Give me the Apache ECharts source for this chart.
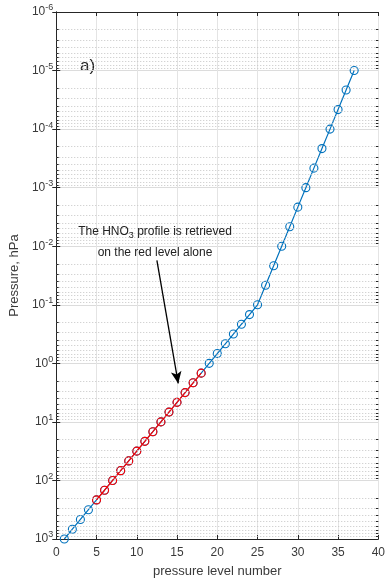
<!DOCTYPE html>
<html><head><meta charset="utf-8">
<script src="https://cdn.jsdelivr.net/npm/echarts@6/dist/echarts.min.js"></script>
<style>html,body{margin:0;padding:0;background:#fff}#c{width:388px;height:583px}</style>
</head><body><div id="c"></div>
<script>
const levels = [1,2,3,4,5,6,7,8,9,10,11,12,13,14,15,16,17,18,19,20,21,22,23,24,25,26,27,28,29,30,31,32,33,34,35,36,37];
const pressure = [1000, 681, 464, 316, 215, 147, 100, 68.1, 46.4, 31.6, 21.5, 14.7, 10, 6.81, 4.64, 3.16, 2.15, 1.47, 1, 0.681, 0.464, 0.316, 0.215, 0.147, 0.1, 0.0464, 0.0215, 0.01, 0.00464, 0.00215, 0.001, 0.000464, 0.000215, 0.0001, 0.0000464, 0.0000215, 0.00001];
const redLevels = [5,6,7,8,9,10,11,12,13,14,15,16,17,18];
const xTicks = [0,5,10,15,20,25,30,35,40];
const yDecades = [-6,-5,-4,-3,-2,-1,0,1,2,3];
const annotationLines = ['The HNO{sub|3} profile is retrieved', 'on the red level alone'];
const arrowFrom = [12.5, 0.0175];
const arrowTo = [15.15, 2.2];

const blueData = levels.map((l, i) => [l, pressure[i]]);
const redData = redLevels.map(l => [l, pressure[levels.indexOf(l)]]);

const minorVals = [];
for (let d = -6; d < 3; d++) for (let k = 2; k <= 9; k++) minorVals.push(k * Math.pow(10, d));

const axisColor = '#262626';
const textColor = '#3a3a3a';
const font = 'Liberation Sans, Arial, sans-serif';

const chart = echarts.init(document.getElementById('c'), null, {renderer: 'canvas'});
chart.setOption({
  animation: false,
  grid: {left: 53, top: 12, right: 8, bottom: 41, show: false},
  xAxis: [{
    type: 'value', min: 0, max: 40, interval: 5,
    name: 'pressure level number', nameLocation: 'middle', nameGap: 26,
    nameTextStyle: {fontSize: 13, color: textColor, fontFamily: font},
    axisLine: {show: true, lineStyle: {color: axisColor, width: 1}},
    axisTick: {show: true, inside: true, length: 4, lineStyle: {color: axisColor}},
    axisLabel: {fontSize: 12, color: textColor, fontFamily: font, margin: 8},
    splitLine: {show: true, lineStyle: {color: '#e4e4e4', width: 1}}
  }, {
    type: 'value', min: 0, max: 40, interval: 5, position: 'top',
    axisLine: {show: true, lineStyle: {color: axisColor, width: 1}},
    axisTick: {show: true, inside: true, length: 4, lineStyle: {color: axisColor}},
    axisLabel: {show: false}, splitLine: {show: false}
  }],
  yAxis: [{
    type: 'log', logBase: 10, min: 1e-6, max: 1e3, inverse: true,
    name: 'Pressure, hPa', nameLocation: 'middle', nameGap: 33,
    nameTextStyle: {fontSize: 13, color: textColor, fontFamily: font},
    axisLine: {show: true, lineStyle: {color: axisColor, width: 1}},
    axisTick: {show: true, inside: true, length: 4, lineStyle: {color: axisColor}},
    axisLabel: {
      margin: 3, fontFamily: font,
      formatter: v => '{b|10}{s|' + Math.round(Math.log10(v)) + '}',
      rich: {
        b: {fontSize: 12, color: textColor, fontFamily: font},
        s: {fontSize: 9, color: textColor, fontFamily: font, padding: [0, 0, 8, 0]}
      }
    },
    splitLine: {show: true, lineStyle: {color: '#dcdcdc', width: 1}}
  }, {
    type: 'log', logBase: 10, min: 1e-6, max: 1e3, inverse: true, position: 'right',
    axisLine: {show: true, lineStyle: {color: axisColor, width: 1}},
    axisTick: {show: true, inside: true, length: 4, lineStyle: {color: axisColor}},
    axisLabel: {show: false}, splitLine: {show: false}
  }],
  series: [{
    type: 'line', silent: true, data: [], symbol: 'none',
    markLine: {
      silent: true, symbol: 'none', animation: false, precision: 12,
      label: {show: false},
      lineStyle: {color: '#c4c4c4', type: [1, 2], width: 1},
      data: minorVals.map(v => ({yAxis: v}))
    }
  }, {
    type: 'line', silent: true, data: [], symbol: 'none',
    markLine: {
      silent: true, symbol: 'none', animation: false, precision: 12,
      label: {show: false},
      lineStyle: {color: axisColor, type: 'solid', width: 1},
      data: minorVals.map(v => [{coord: [0, v]}, {coord: [0.3, v]}])
        .concat(minorVals.map(v => [{coord: [39.7, v]}, {coord: [40, v]}]))
    }
  }, {
    name: 'all', type: 'line', data: blueData,
    symbol: 'circle', symbolSize: 8,
    lineStyle: {color: '#0072BD', width: 1.2},
    itemStyle: {color: 'rgba(0,0,0,0)', borderColor: '#0072BD', borderWidth: 1.1},
    z: 3
  }, {
    name: 'red', type: 'line', data: redData,
    symbol: 'circle', symbolSize: 8,
    lineStyle: {color: '#FF0000', width: 1.2},
    itemStyle: {color: 'rgba(0,0,0,0)', borderColor: '#FF0000', borderWidth: 1.1},
    z: 4,
    markLine: {
      silent: true, animation: false, precision: 12,
      symbol: ['none', 'arrow'], symbolSize: [8, 12],
      label: {show: false},
      lineStyle: {color: '#000', type: 'solid', width: 1.3},
      data: [[{coord: arrowFrom}, {coord: arrowTo}]]
    }
  }],
  graphic: [{
    type: 'text', left: 80, top: 58,
    style: {text: 'a)', fontSize: 17, fill: '#222', fontFamily: font}
  }, {
    type: 'text', x: 155, y: 242, z: 100,
    style: {
      text: annotationLines.join('\n'), fontSize: 12, fill: '#222', fontFamily: font,
      align: 'center', verticalAlign: 'middle', lineHeight: 21,
      rich: {sub: {fontSize: 9, fill: '#222', padding: [8, 0, 0, 0]}}
    }
  }]
});
</script></body></html>
